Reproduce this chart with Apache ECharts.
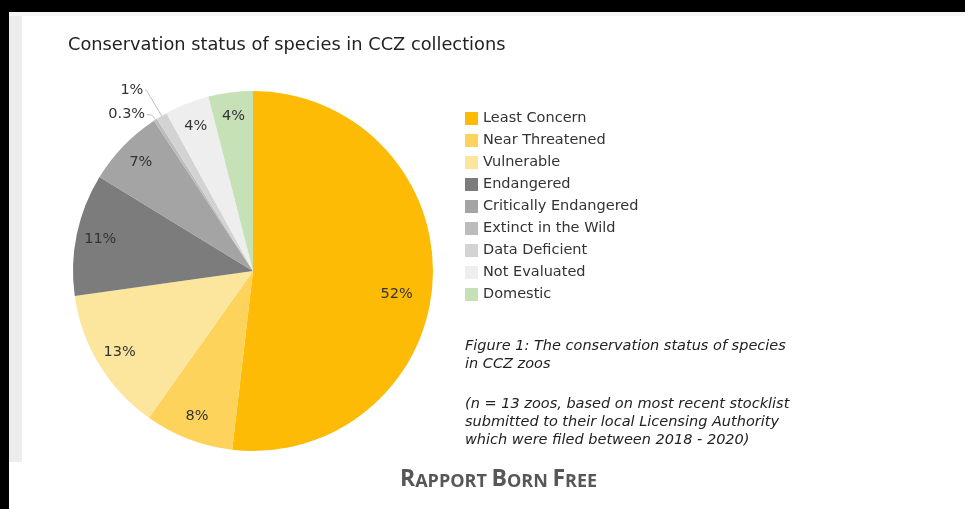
<!DOCTYPE html>
<html>
<head>
<meta charset="utf-8">
<script src="https://cdn.jsdelivr.net/npm/echarts@6/dist/echarts.min.js"></script>
<style>
  html, body { margin: 0; padding: 0; background: #fff; }
  #chart { width: 965px; height: 509px; }
</style>
</head>
<body>
<div id="chart"></div>
<script>
// Conservation status categories, in clockwise order from 12 o'clock
const categories = [
  'Least Concern', 'Near Threatened', 'Vulnerable', 'Endangered',
  'Critically Endangered', 'Extinct in the Wild', 'Data Deficient',
  'Not Evaluated', 'Domestic'
];
// Share of species (%) per status
const shares = [52, 8, 13, 11, 7, 0.3, 1, 4, 4];
// Label text per slice
const shareLabels = ['52%', '8%', '13%', '11%', '7%', '0.3%', '1%', '4%', '4%'];
// Slices too thin for an inside label, with their leader-line lengths
const outsideLabelled = {
  'Extinct in the Wild': { length: 6, length2: 5 },
  'Data Deficient': { length: 30, length2: 1 }
};

const colors = [
  '#FDBB05', '#FDD35C', '#FCE59C', '#7C7C7C',
  '#A4A4A4', '#BCBCBC', '#D3D3D3', '#EEEEEE', '#C6E1B5'
];

const FONT = '"DejaVu Sans", "Liberation Sans", Arial, sans-serif';
const CENTER = [253, 271];
const R = 180;

const mainData = categories.map((name, i) => {
  const outer = outsideLabelled[name];
  return {
    name,
    value: shares[i],
    label: outer
      ? { show: true, position: 'outside', formatter: shareLabels[i] }
      : { show: false },
    labelLine: outer ? { show: true, length: outer.length, length2: outer.length2 } : { show: false }
  };
});

// A transparent ring carrying the inside labels, so they sit near the rim
const labelData = categories.map((name, i) => ({
  name,
  value: shares[i],
  label: {
    show: !outsideLabelled[name],
    formatter: shareLabels[i],
    offset: i === 0 ? [-12, 14] : [0, 0]
  }
}));

const chart = echarts.init(document.getElementById('chart'), null, { renderer: 'canvas' });

chart.setOption({
  backgroundColor: '#ffffff',
  animation: false,
  color: colors,
  title: {
    text: 'Conservation status of species in CCZ collections',
    left: 63,
    top: 31,
    textStyle: { fontFamily: FONT, fontSize: 17.8, fontWeight: 'normal', color: '#222' }
  },
  legend: {
    orient: 'vertical',
    left: 465,
    top: 111,
    padding: 0,
    itemWidth: 13,
    itemHeight: 13,
    itemGap: 7,
    icon: 'rect',
    data: categories,
    selectedMode: false,
    textStyle: { fontFamily: FONT, fontSize: 14.5, lineHeight: 13, color: '#333' }
  },
  graphic: [
    { type: 'rect', silent: true, z: -10, shape: { x: 0, y: 0, width: 965, height: 12 }, style: { fill: '#000' } },
    { type: 'rect', silent: true, z: -10, shape: { x: 0, y: 0, width: 9, height: 509 }, style: { fill: '#000' } },
    { type: 'rect', silent: true, z: -10, shape: { x: 9, y: 12, width: 13, height: 450 }, style: { fill: '#EDEDED' } },
    { type: 'rect', silent: true, z: -10, shape: { x: 9, y: 12, width: 956, height: 4 }, style: { fill: '#F6F6F6' } },
    {
      type: 'text', left: 465, top: 337,
      style: {
        text: 'Figure 1: The conservation status of species\nin CCZ zoos',
        font: 'italic 14.5px ' + FONT, fill: '#222', lineHeight: 18
      }
    },
    {
      type: 'text', left: 465, top: 395,
      style: {
        text: '(n = 13 zoos, based on most recent stocklist\nsubmitted to their local Licensing Authority\nwhich were filed between 2018 - 2020)',
        font: 'italic 14.5px ' + FONT, fill: '#222', lineHeight: 18
      }
    },
    {
      type: 'text', left: 400, top: 468,
      style: {
        text: '{b|R}{s|APPORT }{b|B}{s|ORN }{b|F}{s|REE}',
        rich: {
          b: { fontFamily: '"Open Sans", sans-serif', fontWeight: 'bold', fontSize: 23, fill: '#575757', verticalAlign: 'bottom' },
          s: { fontFamily: '"Open Sans", sans-serif', fontWeight: 'bold', fontSize: 18, fill: '#575757', verticalAlign: 'bottom' }
        }
      }
    }
  ],
  series: [
    {
      type: 'pie',
      center: CENTER,
      radius: [0, R],
      startAngle: 90,
      clockwise: true,
      silent: true,
      avoidLabelOverlap: false,
      itemStyle: { borderWidth: 0 },
      label: { fontFamily: FONT, fontSize: 14.5, color: '#333', distanceToLabelLine: 2 },
      labelLine: { smooth: true, lineStyle: { color: '#BBBBBB', width: 1 } },
      data: mainData
    },
    {
      type: 'pie',
      center: CENTER,
      radius: [126, R],
      startAngle: 90,
      clockwise: true,
      silent: true,
      itemStyle: { color: 'rgba(0,0,0,0)', borderWidth: 0 },
      label: { position: 'inside', fontFamily: FONT, fontSize: 14.5, color: '#333' },
      labelLine: { show: false },
      emphasis: { disabled: true },
      data: labelData
    }
  ]
});
</script>
</body>
</html>
